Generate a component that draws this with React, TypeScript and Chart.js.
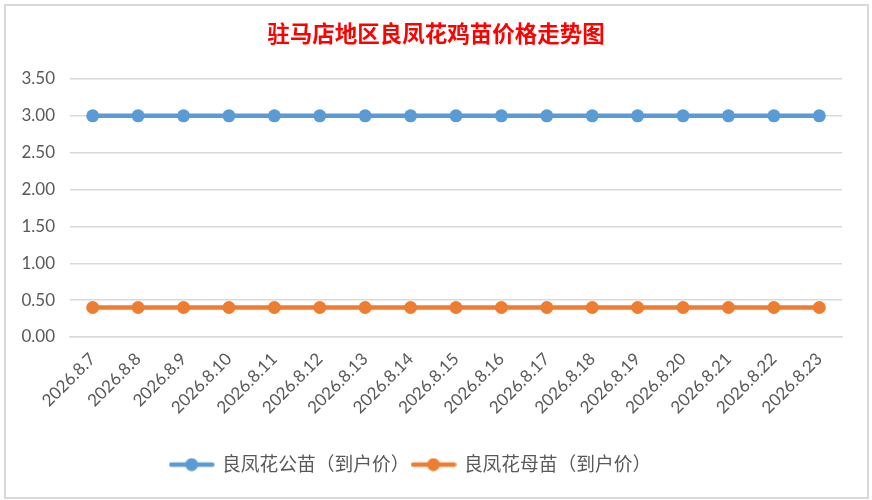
import React, { useEffect, useRef } from "react";
import { Chart, registerables } from "chart.js";

Chart.register(...registerables);

const title = "驻马店地区良凤花鸡苗价格走势图";
const categories = [
  "2026.8.7", "2026.8.8", "2026.8.9", "2026.8.10", "2026.8.11", "2026.8.12",
  "2026.8.13", "2026.8.14", "2026.8.15", "2026.8.16", "2026.8.17", "2026.8.18",
  "2026.8.19", "2026.8.20", "2026.8.21", "2026.8.22", "2026.8.23",
];
const seriesNames = ["良凤花公苗（到户价）", "良凤花母苗（到户价）"];
const maleValues = [3, 3, 3, 3, 3, 3, 3, 3, 3, 3, 3, 3, 3, 3, 3, 3, 3];
const femaleValues = [0.4, 0.4, 0.4, 0.4, 0.4, 0.4, 0.4, 0.4, 0.4, 0.4, 0.4, 0.4, 0.4, 0.4, 0.4, 0.4, 0.4];
const colors = ["#5B9BD5", "#ED7D31"];

const FONT = "Lato, 'Noto Sans CJK SC', sans-serif";

function legendIcon(color: string): HTMLCanvasElement {
  const c = document.createElement("canvas");
  c.width = 46;
  c.height = 14;
  const ctx = c.getContext("2d")!;
  ctx.strokeStyle = color;
  ctx.lineWidth = 4.5;
  ctx.lineCap = "round";
  ctx.beginPath();
  ctx.moveTo(2.5, 7);
  ctx.lineTo(43.5, 7);
  ctx.stroke();
  ctx.fillStyle = color;
  ctx.beginPath();
  ctx.arc(23, 7, 6.5, 0, Math.PI * 2);
  ctx.fill();
  return c;
}

const titlePlugin = {
  id: "centerTitle",
  afterDraw(chart: any) {
    const ctx = chart.ctx as CanvasRenderingContext2D;
    ctx.save();
    ctx.font = "bold 22.5px 'Noto Sans CJK SC', sans-serif";
    ctx.fillStyle = "#FF0000";
    ctx.textAlign = "center";
    ctx.textBaseline = "middle";
    ctx.fillText(title, chart.width / 2, 33);
    ctx.restore();
  },
};

export default function App() {
  const ref = useRef<HTMLCanvasElement>(null);

  useEffect(() => {
    document.body.style.margin = "0";
    const icons = colors.map(legendIcon);
    const chart = new Chart(ref.current!, {
      type: "line",
      data: {
        labels: categories,
        datasets: [
          {
            label: seriesNames[0],
            data: maleValues,
            borderColor: colors[0],
            backgroundColor: colors[0],
            borderWidth: 4.5,
            pointRadius: 6.5,
            pointBackgroundColor: colors[0],
            pointBorderWidth: 0,
            pointStyle: "circle",
          },
          {
            label: seriesNames[1],
            data: femaleValues,
            borderColor: colors[1],
            backgroundColor: colors[1],
            borderWidth: 4.5,
            pointRadius: 6.5,
            pointBackgroundColor: colors[1],
            pointBorderWidth: 0,
            pointStyle: "circle",
          },
        ],
      },
      plugins: [titlePlugin],
      options: {
        animation: false,
        responsive: false,
        devicePixelRatio: 1,
        layout: { padding: { left: -20, right: 30, top: 79, bottom: 16 } },
        plugins: {
          title: { display: false },
          legend: {
            position: "bottom",
            labels: {
              usePointStyle: true,
              pointStyleWidth: 42,
              boxHeight: 14,
              color: "#595959",
              font: { family: FONT, size: 18.75 },
              padding: 3,
              generateLabels: (ch) =>
                ch.data.datasets.map((ds, i) => ({
                  text: ds.label as string,
                  fillStyle: colors[i],
                  strokeStyle: colors[i],
                  lineWidth: 0,
                  pointStyle: icons[i],
                  datasetIndex: i,
                  hidden: false,
                  fontColor: "#595959",
                })),
            },
          },
          tooltip: { enabled: false },
        },
        scales: {
          x: {
            offset: true,
            grid: { display: false },
            border: { display: true, color: "#D9D9D9", width: 1.5 },
            ticks: {
              color: "#595959",
              font: { family: FONT, size: 17 },
              minRotation: 45,
              maxRotation: 45,
              autoSkip: false,
              padding: 4,
            },
            afterFit: (s: any) => {
              s.height = 115.25;
            },
          },
          y: {
            min: 0,
            max: 3.5,
            grid: { color: "#D9D9D9", lineWidth: 1.5, drawTicks: false },
            border: { display: false },
            ticks: {
              stepSize: 0.5,
              color: "#595959",
              font: { family: FONT, size: 17 },
              padding: 15,
              callback: (v: any) => Number(v).toFixed(2),
            },
            afterFit: (s: any) => {
              s.width = 90;
            },
          },
        },
      },
    });
    return () => chart.destroy();
  }, []);

  return (
    <div style={{ position: "relative", width: 872, height: 500, background: "#fff", overflow: "hidden" }}>
      <div
        style={{
          position: "absolute",
          left: 4,
          top: 4,
          width: 861,
          height: 491,
          border: "2px solid #D9D9D9",
          background: "#fff",
        }}
      />
      <canvas ref={ref} width={872} height={500} style={{ position: "absolute", left: 0, top: 0 }} />
    </div>
  );
}
